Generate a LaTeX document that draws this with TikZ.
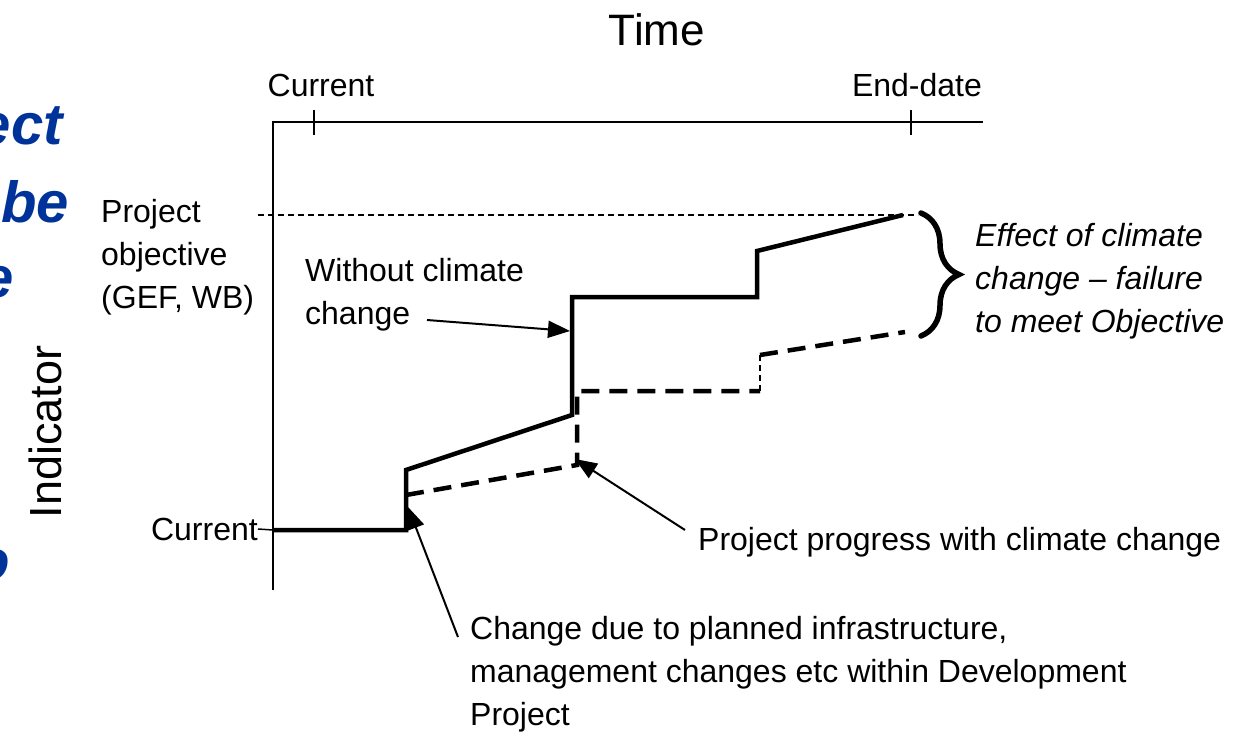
\documentclass[tikz,border=0pt]{standalone}
\usepackage{fontspec}
\setmainfont{Liberation Sans}
\usetikzlibrary{arrows.meta,decorations.pathreplacing}
\definecolor{titleblue}{RGB}{0,51,153}
\tikzset{
  lbl/.style={inner sep=0pt, font=\fontsize{32}{43}\selectfont, align=left},
  bigtxt/.style={inner sep=0pt, font=\fontsize{44}{44}\selectfont},
  axisline/.style={line width=1.5pt},
  solidline/.style={line width=4.5pt, line join=miter},
  dashline/.style={line width=4.5pt, dash pattern=on 18pt off 10pt},
  thindash/.style={line width=2.5pt, dash pattern=on 6pt off 4pt},
  objline/.style={line width=1.5pt, dash pattern=on 6pt off 4pt},
  arr/.style={line width=2pt, -{Triangle[length=22pt,width=17pt]}},
  bluefrag/.style={inner sep=0pt, text=titleblue, font=\fontsize{58}{60}\selectfont\bfseries\itshape, anchor=base east},
  bracestyle/.style={line width=5.5pt, line cap=round, decorate, decoration={brace, amplitude=38pt}},
}
\begin{document}
\begin{tikzpicture}[x=1pt,y=-1pt]
\useasboundingbox (0,0) rectangle (1251,755);

% blue fragments cut at the left edge
\node[bluefrag] (f1) at (63,144) {ect};
\node[bluefrag] (f2) at (69,222) {be};
\node[bluefrag] (f3) at (14,297) {e};
\node[bluefrag] (f4) at (10,580) {o};

% axes
\coordinate (xend) at (983,122);
\coordinate (origin) at (273,122);
\coordinate (yend) at (273,590);
\draw[axisline] (xend) -- (origin) -- (yend);
\coordinate (t1a) at (314,110); \coordinate (t1b) at (314,135);
\coordinate (t2a) at (911,110); \coordinate (t2b) at (911,135);
\draw[axisline] (t1a) -- (t1b);
\draw[axisline] (t2a) -- (t2b);

% axis texts
\node[bigtxt, anchor=base] (time) at (657,45) {Time};
\node[inner sep=0pt, font=\fontsize{32}{32}\selectfont, anchor=base] (curtop) at (321,96) {Current};
\node[inner sep=0pt, font=\fontsize{32}{32}\selectfont, anchor=base] (enddate) at (917,96) {End-date};
\node[inner sep=0pt, font=\fontsize{45}{45}\selectfont, rotate=90, anchor=base] (indicator) at (61,432) {Indicator};

% objective line
\coordinate (obj0) at (258,215);
\coordinate (obj1) at (918,215);
\draw[objline] (obj0) -- (obj1);
\node[lbl, anchor=north west] (objective) at (101,199) {Project\\objective\\(GEF, WB)};

% current label
\node[lbl, anchor=east] (curleft) at (258,529) {Current};
\coordinate (c0) at (273,530);
\draw[axisline] (curleft.east) -- (c0);

% without climate change (solid)
\coordinate (s1) at (406,530);
\coordinate (s2) at (406,470);
\coordinate (s3) at (572,415);
\coordinate (s4) at (572,297);
\coordinate (s5) at (757,297);
\coordinate (s6) at (757,251);
\coordinate (s7) at (903,215);
\draw[solidline] (c0) -- (s1) -- (s2) -- (s3) -- (s4) -- (s5) -- (s6) -- (s7);

% with climate change (dashed)
\coordinate (d0) at (406,495);
\coordinate (d1) at (577,465);
\coordinate (d2) at (577,391);
\coordinate (d3) at (760,391);
\coordinate (d4) at (760,355);
\coordinate (d5) at (905,332);
\draw[dashline] (d0) -- (d1) -- (d2) -- (d3);
\draw[thindash] (d3) -- (d4);
\draw[dashline] (d4) -- (d5);

% brace and its label
\coordinate (b0) at (921,213);
\coordinate (b1) at (921,336);
\draw[bracestyle] (b0) -- (b1);
\node[lbl, anchor=north west, font=\fontsize{32}{43}\selectfont\itshape] (effect) at (975,223) {Effect of climate\\change -- failure\\to meet Objective};

% labels with arrows
\node[lbl, anchor=north west] (wcc) at (305,258) {Without climate\\change};
\coordinate (wccstart) at (427,320);
\coordinate (wcctip) at (570,331);
\draw[arr] (wccstart) -- (wcctip);

\node[lbl, anchor=north west] (ppcc) at (698,527) {Project progress with climate change};
\coordinate (ppstart) at (685,530);
\coordinate (pptip) at (575,459);
\draw[arr] (ppstart) -- (pptip);

\node[lbl, anchor=north west] (change) at (470,616) {Change due to planned infrastructure,\\management changes etc within Development\\Project};
\coordinate (chstart) at (458,637);
\coordinate (chtip) at (408,507);
\draw[arr] (chstart) -- (chtip);
\end{tikzpicture}
\end{document}
